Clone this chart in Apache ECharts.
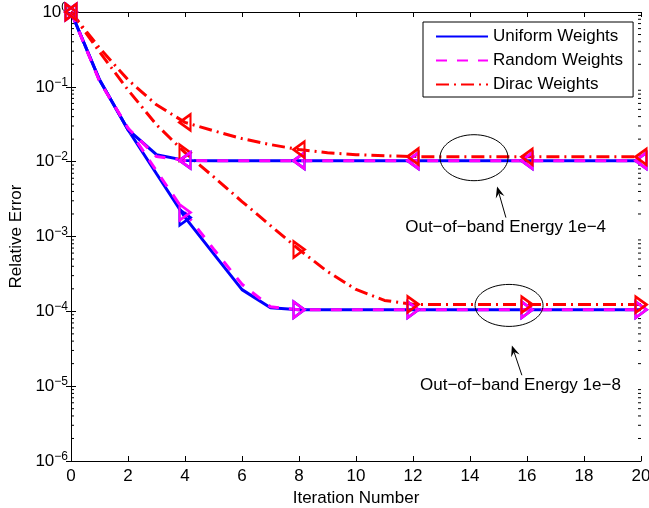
<!DOCTYPE html>
<html><head><meta charset="utf-8">
<script src="https://cdn.jsdelivr.net/npm/echarts@6/dist/echarts.min.js"></script>
<style>html,body{margin:0;padding:0;background:#fff}#c{width:649px;height:508px}</style>
</head><body><div id="c"></div>
<script>
const FONT = 'Liberation Sans, Arial, Helvetica, sans-serif';
const iterations = [0,1,2,3,4,5,6,7,8,9,10,11,12,13,14,15,16,17,18,19,20];
// Out-of-band energy 1e-4
const uniform4 = [1,0.124,0.0267,0.0124,0.0104,0.0103,0.0103,0.0103,0.0103,0.0103,0.0103,0.0103,0.0103,0.0103,0.0103,0.0103,0.0103,0.0103,0.0103,0.0103,0.0103];
const random4  = [1,0.12,0.028,0.0117,0.0104,0.0103,0.0103,0.0103,0.0103,0.0103,0.0103,0.0103,0.0103,0.0103,0.0103,0.0103,0.0103,0.0103,0.0103,0.0103,0.0103];
const dirac4   = [1,0.331,0.124,0.0575,0.0335,0.0259,0.0203,0.0169,0.0145,0.0132,0.0124,0.012,0.0117,0.0116,0.0116,0.0116,0.0116,0.0116,0.0116,0.0116,0.0116];
// Out-of-band energy 1e-8
const uniform8 = [1,0.124,0.0267,0.0069,0.0018,5.9e-4,1.95e-4,1.12e-4,1.05e-4,1.05e-4,1.05e-4,1.05e-4,1.05e-4,1.05e-4,1.05e-4,1.05e-4,1.05e-4,1.05e-4,1.05e-4,1.05e-4,1.05e-4];
const random8  = [1,0.12,0.028,0.0075,0.0021,6.8e-4,2.3e-4,1.15e-4,1.05e-4,1.05e-4,1.05e-4,1.05e-4,1.05e-4,1.05e-4,1.05e-4,1.05e-4,1.05e-4,1.05e-4,1.05e-4,1.05e-4,1.05e-4];
const dirac8   = [1,0.293,0.091,0.0311,0.0132,0.0063,0.00293,0.0014,6.7e-4,3.4e-4,1.96e-4,1.4e-4,1.24e-4,1.23e-4,1.23e-4,1.23e-4,1.23e-4,1.23e-4,1.23e-4,1.23e-4,1.23e-4];

const legendNames = ['Uniform Weights','Random Weights','Dirac Weights'];
const annotationTexts = ['Out\u2212of\u2212band Energy 1e\u22124','Out\u2212of\u2212band Energy 1e\u22128'];
// annotation anchors in data coordinates [iteration, relative error]
const ellipseCenters = [[14.14,0.0113],[15.37,1.2e-4]];
const arrowTails = [[15.26,0.00179],[15.82,1.4e-5]];
const arrowTips = [[14.95,0.00464],[15.47,3.5e-5]];
const textCenters = [[15.25,0.00132],[15.77,1.03e-5]];

const BLUE = '#0000ff', MAG = '#ff00ff', RED = '#ff0000';
const DASH = [11,10], DASHDOT = [13,5,2,5];

function pairs(arr){ return arr.map((v,i)=>[iterations[i], v]); }
function dataSeries(name, arr, color, type, rot){
  return {
    name, type:'line', data: pairs(arr), xAxisIndex:0, yAxisIndex:0,
    symbol: (v, p) => (p.dataIndex % 4 === 0 ? 'triangle' : 'none'),
    symbolSize: [16,11], symbolRotate: rot, showAllSymbol: true,
    itemStyle: {color: 'rgba(0,0,0,0)', borderColor: color, borderWidth: 2.5},
    lineStyle: {color, width: 3, type, cap:'butt'},
    emphasis: {disabled: true}, animation:false, z: 3
  };
}
function legendSeries(name, color, type){
  return {name, type:'line', data: [], symbol:'none', showSymbol:false, itemStyle:{color},
    lineStyle:{color, width:3, type}, xAxisIndex:0, yAxisIndex:0};
}
const minorVals = [];
for (let e=-6; e<0; e++) for (let k=2; k<=9; k++) minorVals.push([0, k*Math.pow(10,e)]);

const supMap = v => { const e = Math.round(Math.log10(v)); return '{b|10}{s|' + (e<0 ? '\u2212' + (-e) : e) + '}'; };

const option = {
  backgroundColor: '#fff',
  animation: false,
  textStyle: {fontFamily: FONT},
  grid: {left: 71, right: 8, top: 12, bottom: 47, containLabel: false, outerBoundsMode: 'none'},
  legend: {
    data: legendNames, orient:'vertical', left: 423, top: 22,
    itemWidth: 52, itemHeight: 14, itemGap: 7,
    padding: [6,10,4,12], borderColor:'#000', borderWidth:1, backgroundColor:'#fff',
    itemStyle: {color:'rgba(0,0,0,0)', borderColor:'rgba(0,0,0,0)', borderWidth:0, opacity:0},
    textStyle: {fontSize:17, color:'#000', fontFamily: FONT}, selectedMode:false
  },
  xAxis: [
    {type:'value', min:0, max:20, interval:2, position:'bottom',
     name:'Iteration Number', nameLocation:'middle', nameGap:27,
     nameTextStyle:{fontSize:17, color:'#000', fontFamily:FONT},
     axisLine:{lineStyle:{color:'#000', width:1}}, axisTick:{inside:true, length:5, lineStyle:{color:'#000'}},
     axisLabel:{fontSize:17, color:'#000', margin:7, fontFamily:FONT}, splitLine:{show:false}},
    {type:'value', min:0, max:20, interval:2, position:'top',
     axisLine:{lineStyle:{color:'#000', width:1}}, axisTick:{inside:true, length:5, lineStyle:{color:'#000'}},
     axisLabel:{show:false}, splitLine:{show:false}}
  ],
  yAxis: [
    {type:'log', logBase:10, min:1e-6, max:1, interval:1, position:'left',
     name:'Relative Error', nameLocation:'middle', nameGap:40, nameRotate:90,
     nameTextStyle:{fontSize:17, color:'#000', fontFamily:FONT},
     axisLine:{lineStyle:{color:'#000', width:1}}, axisTick:{inside:true, length:5, lineStyle:{color:'#000'}},
     axisLabel:{formatter: supMap, margin:3, rich:{b:{fontSize:17, color:'#000', fontFamily:FONT}, s:{fontSize:12, color:'#000', fontFamily:FONT, padding:[0,0,9,0]}}},
     splitLine:{show:false}, minorTick:{show:false}},
    {type:'log', logBase:10, min:1e-6, max:1, interval:1, position:'right',
     axisLine:{lineStyle:{color:'#000', width:1}}, axisTick:{inside:true, length:5, lineStyle:{color:'#000'}},
     axisLabel:{show:false}, splitLine:{show:false}}
  ],
  series: [
    legendSeries(legendNames[0], BLUE, 'solid'),
    legendSeries(legendNames[1], MAG, DASH),
    legendSeries(legendNames[2], RED, DASHDOT),
    {type:'custom', xAxisIndex:0, yAxisIndex:0, data: minorVals, silent:true, z:1,
     renderItem: (params, api) => {
       const cs = params.coordSys;
       const p = api.coord([0, api.value(1)]);
       const st = {stroke:'#000', lineWidth:1};
       return {type:'group', children:[
         {type:'line', shape:{x1:cs.x, y1:p[1], x2:cs.x+3, y2:p[1]}, style:st},
         {type:'line', shape:{x1:cs.x+cs.width-3, y1:p[1], x2:cs.x+cs.width, y2:p[1]}, style:st}
       ]};
     }},
    dataSeries('u8', uniform8, BLUE, 'solid', -90),
    dataSeries('r8', random8, MAG, DASH, -90),
    dataSeries('d8', dirac8, RED, DASHDOT, -90),
    dataSeries('u4', uniform4, BLUE, 'solid', 90),
    dataSeries('r4', random4, MAG, DASH, 90),
    dataSeries('d4', dirac4, RED, DASHDOT, 90)
  ]
};
const chart = echarts.init(document.getElementById('c'), null, {renderer:'canvas'});
chart.setOption(option);

const px = p => chart.convertToPixel({seriesIndex: 4}, p);
const graphics = [];
for (let i=0;i<2;i++){
  const c = px(ellipseCenters[i]);
  graphics.push({type:'ellipse', shape:{cx:c[0], cy:c[1], rx:34, ry:i===0?23:21}, style:{fill:'none', stroke:'#000', lineWidth:1}, z:10});
  const t = px(arrowTails[i]), h = px(arrowTips[i]);
  const dx = h[0]-t[0], dy = h[1]-t[1], L = Math.hypot(dx,dy), ux = dx/L, uy = dy/L;
  const hl = 11, hw = 4.5, nb = 7;
  const bx = h[0]-ux*hl, by = h[1]-uy*hl;
  graphics.push({type:'line', shape:{x1:t[0], y1:t[1], x2:h[0]-ux*nb, y2:h[1]-uy*nb}, style:{stroke:'#000', lineWidth:1}, z:10});
  graphics.push({type:'polygon', shape:{points:[[h[0],h[1]],[bx-uy*hw, by+ux*hw],[h[0]-ux*nb, h[1]-uy*nb],[bx+uy*hw, by-ux*hw]]}, style:{fill:'#000'}, z:10});
  const tc = px(textCenters[i]);
  graphics.push({type:'text', x:tc[0], y:tc[1], style:{text:annotationTexts[i], font:'17px ' + FONT, fill:'#000', align:'center', verticalAlign:'middle', textAlign:'center', textVerticalAlign:'middle'}, z:10});
}
chart.setOption({graphic: graphics});
</script>
</body></html>
